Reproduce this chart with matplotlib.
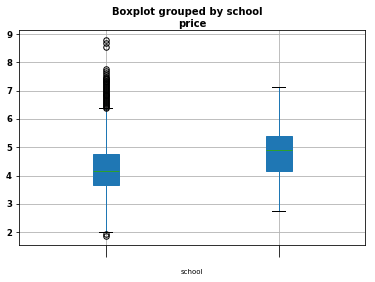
import matplotlib
matplotlib.use("Agg")
import matplotlib.pyplot as plt

# box statistics (price by school)
schools = ["", ""]
q1 = [3.66, 4.16]
medians = [4.16, 4.90]
q3 = [4.76, 5.39]
whislo = [2.00, 2.74]
whishi = [6.37, 7.13]
fliers_a = [1.85, 1.93,
            6.40, 6.43, 6.46, 6.50, 6.53, 6.56, 6.60, 6.63, 6.66, 6.70,
            6.73, 6.76, 6.80, 6.83, 6.86, 6.90, 6.93, 6.96, 7.00, 7.03,
            7.06, 7.10, 7.13, 7.16, 7.20, 7.23, 7.26, 7.30, 7.33, 7.36,
            7.40, 7.43, 7.46, 7.50, 7.55, 7.62, 7.70, 7.78,
            8.55, 8.70, 8.78]
fliers_b = []

stats = []
for i in range(len(schools)):
    stats.append({
        "label": schools[i],
        "q1": q1[i], "med": medians[i], "q3": q3[i],
        "whislo": whislo[i], "whishi": whishi[i],
        "fliers": [fliers_a, fliers_b][i],
    })

fig = plt.figure(figsize=(375 / 72, 282 / 72), dpi=72)
ax = fig.add_axes([0.051, 0.131, 0.923, 0.762])

bp = ax.bxp(stats, patch_artist=True, widths=0.15,
            boxprops=dict(facecolor="#1f77b4", edgecolor="#1f77b4"),
            whiskerprops=dict(color="#1f77b4"),
            capprops=dict(color="black"),
            medianprops=dict(color="#2ca02c"),
            flierprops=dict(marker="o", markersize=5.5, markerfacecolor="none",
                            markeredgecolor="black"))

ax.set_ylim(1.54, 9.14)
ax.set_xlim(0.5, 2.5)
ax.grid(True, color="#b0b0b0", linewidth=0.8)
ax.set_axisbelow(True)
ax.set_yticks([2, 3, 4, 5, 6, 7, 8, 9])
ax.tick_params(axis="y", labelsize=8.5)
for t in ax.get_yticklabels():
    t.set_fontweight("bold")
ax.tick_params(axis="x", length=12)
ax.set_xticklabels(schools)
ax.set_xlabel("school", fontsize=7)
ax.xaxis.set_label_coords(0.5, -0.11)

ax.set_title("price", fontsize=10, fontweight="bold", pad=3)
fig.suptitle("Boxplot grouped by school", fontsize=10, fontweight="bold",
             y=0.957, va="center")

fig.savefig("out.png", dpi=72)
